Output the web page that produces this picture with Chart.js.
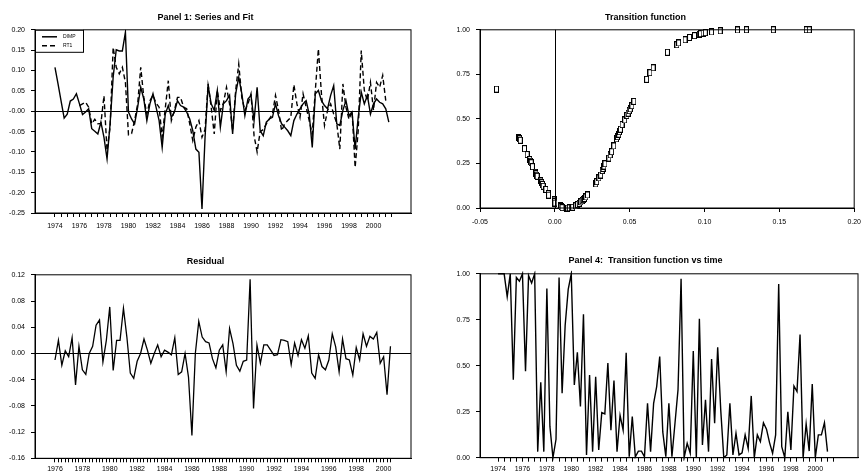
<!DOCTYPE html>
<html>
<head>
<meta charset="utf-8">
<script src="https://cdn.jsdelivr.net/npm/chart.js@4.4.0/dist/chart.umd.min.js"></script>
<style>
  body { margin: 0; background: #fff; }
  #wrap { position: relative; width: 867px; height: 473px; }
  canvas { position: absolute; }
</style>
</head>
<body>
<div id="wrap">
  <canvas id="c1" width="433" height="236" style="left:0;top:0"></canvas>
  <canvas id="c2" width="434" height="236" style="left:433px;top:0"></canvas>
  <canvas id="c3" width="433" height="237" style="left:0;top:236px"></canvas>
  <canvas id="c4" width="434" height="237" style="left:433px;top:236px"></canvas>
</div>
<script>
// ---- data (quarterly) ----
const startDimp = 1974;   // first quarter of DIMP / RT1
const startResid = 1976;  // first quarter of residual
const startTrans = 1974;  // first quarter of transition function vs time

const dimp = [
  0.108,0.067,0.025,-0.017,-0.007,0.025,0.030,0.043,0.018,-0.008,
  -0.002,0.006,-0.043,-0.049,-0.056,-0.027,-0.064,-0.117,-0.031,0.084,
  0.151,0.148,0.148,0.194,-0.002,-0.019,-0.031,0.010,0.059,0.030,
  -0.023,0.018,0.043,0.010,-0.023,-0.089,-0.007,0.014,-0.015,-0.002,
  0.026,0.014,0.010,-0.002,-0.019,-0.048,-0.093,-0.101,-0.240,-0.064,
  0.063,0.018,0.002,0.051,-0.039,0.018,0.026,0.039,-0.056,0.043,
  0.084,0.043,-0.011,0.030,0.039,-0.023,0.059,-0.048,-0.060,-0.027,
  -0.019,-0.015,0.018,-0.011,-0.031,-0.039,-0.048,-0.060,-0.023,-0.007,
  0.006,0.018,0.026,-0.007,-0.089,0.043,0.051,0.026,0.014,0.006,
  0.039,0.063,-0.031,-0.035,0.002,0.026,-0.011,-0.002,-0.093,-0.015,
  0.047,0.018,0.039,-0.007,0.018,0.030,0.022,0.018,0.006,-0.027
];

const rt1 = [
  null,null,null,null,null,null,null,null,
  0.014,0.018,0.022,0.010,-0.031,-0.020,-0.031,-0.030,0.038,-0.097,
  -0.039,0.157,0.108,0.092,0.108,0.071,-0.058,-0.055,-0.023,0.018,
  0.108,0.034,-0.007,0.026,0.039,0.020,0.010,-0.064,0.006,0.075,
  -0.023,0.002,0.034,0.034,0.010,0.006,-0.031,-0.072,-0.039,-0.023,
  -0.064,-0.045,0.067,0.010,-0.056,0.051,0.002,0.020,
  0.059,0.018,-0.048,0.051,0.116,0.034,0.002,0.018,0.043,-0.060,
  -0.100,-0.050,-0.045,-0.031,-0.019,-0.007,0.039,0.002,-0.048,-0.031,
  -0.023,-0.015,0.065,0.018,-0.015,0.043,0.010,-0.023,-0.056,0.051,
  0.153,0.043,-0.035,0.002,0.018,-0.007,-0.030,-0.093,0.067,0.010,
  -0.020,0.000,-0.138,-0.048,0.149,0.051,0.026,0.071,0.002,0.071,
  0.059,0.088,0.026
];

const resid = [
  -0.010,0.020,-0.018,0.004,-0.005,0.024,-0.048,0.011,-0.025,-0.032,
  0.000,0.011,0.043,0.051,-0.013,0.020,0.071,-0.026,0.020,0.020,
  0.069,0.025,-0.030,-0.038,-0.012,0.000,0.022,0.005,-0.015,0.000,
  0.013,-0.005,0.005,0.002,-0.002,0.024,-0.032,-0.028,0.000,-0.036,
  -0.125,0.000,0.049,0.025,0.018,0.016,-0.008,-0.022,0.005,0.013,
  -0.028,0.038,0.015,-0.018,-0.027,-0.012,-0.010,0.113,-0.084,0.013,
  -0.015,0.013,0.013,0.005,-0.003,-0.002,0.021,0.020,0.018,-0.017,
  0.016,-0.003,0.021,0.008,0.027,-0.030,-0.038,-0.002,-0.020,-0.025,
  -0.010,0.030,0.010,-0.028,0.022,-0.008,-0.010,-0.033,0.009,-0.010,
  0.030,0.011,0.026,0.022,0.032,-0.015,-0.005,-0.063,0.011
];

const transTime = [
  1.0,1.0,1.0,0.875,1.0,0.424,0.98,0.96,1.0,0.47,
  0.99,0.95,1.0,0.033,0.41,0.033,0.92,0.17,0.0,0.10,
  0.98,0.35,0.72,0.915,1.0,0.396,0.573,0.278,0.78,0.015,
  0.45,0.033,0.44,0.042,0.245,0.238,0.515,0.15,0.42,0.033,
  0.23,0.15,0.57,0.005,0.224,0.005,0.036,0.036,0.005,0.296,
  0.033,0.296,
  0.387,0.55,0.14,0.005,0.296,0.005,0.187,0.37,0.973,0.0,
  0.078,0.024,0.58,0.0,0.755,0.069,0.315,0.033,0.536,0.187,
  0.60,0.26,0.0,0.015,0.296,0.015,0.133,0.015,0.027,0.124,
  0.05,0.336,0.0,0.124,0.087,0.19,0.155,0.082,0.024,0.124,
  0.945,0.06,0.0,0.25,0.042,0.39,0.36,0.67,0.0,0.184,
  0.036,0.40,0.0,0.124,0.124,0.19,0.033
];

// transition variable (x) and transition function value (y)
const transX = [
  -0.0390,
  -0.0240,-0.0236,-0.0231,-0.0203,-0.0185,-0.0168,-0.0163,-0.0158,-0.0150,-0.0130,
  -0.0126,-0.0122,-0.0118,-0.0094,-0.0088,-0.0083,-0.0078,-0.0060,-0.0044,-0.0042,
  -0.0004,-0.0002,0.0000,
  0.0040,0.0042,0.0048,0.0075,0.0081,0.0086,0.0097,0.0110,0.0119,0.0140,
  0.0152,0.0163,0.0174,0.0182,0.0190,0.0198,0.0207,0.0218,
  0.0273,0.0280,0.0295,0.0306,0.0317,0.0322,0.0328,0.0335,0.0361,0.0370,
  0.0379,0.0394,0.0412,0.0418,0.0427,0.0432,0.0438,0.0449,0.0467,0.0482,
  0.0490,0.0497,0.0504,0.0515,0.0528,
  0.0613,0.0635,0.0657,0.0752,0.0815,0.0827,0.0870,0.0900,0.0933,0.0965,
  0.0973,0.0990,0.1005,0.1047,0.1105,0.1220,0.1280,0.1460,0.1680,0.1700
];
const transG = [
  0.667,
  0.395,0.388,0.380,0.333,0.300,0.272,0.262,0.254,0.232,0.200,
  0.192,0.184,0.178,0.152,0.142,0.132,0.122,0.104,0.080,0.072,
  0.045,0.035,0.028,
  0.012,0.008,0.002,0.000,0.000,0.000,0.001,0.002,0.004,0.012,
  0.019,0.026,0.034,0.040,0.047,0.054,0.062,0.073,
  0.135,0.148,0.169,0.185,0.210,0.222,0.235,0.248,0.280,0.298,
  0.316,0.348,0.388,0.400,0.414,0.428,0.442,0.468,0.494,0.519,
  0.532,0.546,0.556,0.574,0.598,
  0.722,0.759,0.787,0.874,0.916,0.926,0.944,0.957,0.967,0.975,
  0.978,0.981,0.984,0.988,0.994,0.999,1.000,1.000,1.000,1.000
];

// ---- helpers ----
Chart.defaults.font.family = '"Liberation Sans", Arial, sans-serif';
Chart.defaults.font.size = 7;
Chart.defaults.color = '#000';
Chart.defaults.animation = false;

function quarterly(start, values) {
  const pts = [];
  values.forEach((v, i) => { if (v !== null) pts.push({ x: start + i / 4, y: v }); });
  return pts;
}

// draws the box round the plot and optional zero lines
const frame = {
  id: 'frame',
  afterDatasetsDraw(chart, args, opts) {
    const { ctx, chartArea: a, scales } = chart;
    ctx.save();
    ctx.strokeStyle = '#000';
    ctx.lineWidth = 1;
    ctx.strokeRect(a.left, a.top, a.width, a.height);
    if (opts.zeroY) {
      const y = Math.round(scales.y.getPixelForValue(0)) + 0.5;
      ctx.beginPath(); ctx.moveTo(a.left, y); ctx.lineTo(a.right, y); ctx.stroke();
    }
    if (opts.zeroX) {
      const x = Math.round(scales.x.getPixelForValue(0)) + 0.5;
      ctx.beginPath(); ctx.moveTo(x, a.top); ctx.lineTo(x, a.bottom); ctx.stroke();
    }
    ctx.restore();
  }
};

// small boxed legend in the top left corner of panel 1
const boxLegend = {
  id: 'boxLegend',
  afterDraw(chart) {
    const { ctx, chartArea: a } = chart;
    ctx.save();
    ctx.fillStyle = '#fff';
    ctx.fillRect(a.left, a.top, 48, 22);
    ctx.strokeStyle = '#000';
    ctx.lineWidth = 1;
    ctx.strokeRect(a.left + 0.5, a.top + 0.5, 48, 22);
    chart.data.datasets.forEach((ds, i) => {
      const y = a.top + 7 + i * 9;
      ctx.setLineDash(ds.borderDash || []);
      ctx.lineWidth = 1.5;
      ctx.beginPath(); ctx.moveTo(a.left + 7, y); ctx.lineTo(a.left + 22, y); ctx.stroke();
      ctx.setLineDash([]);
      ctx.fillStyle = '#000';
      ctx.font = '5px "Liberation Sans", Arial, sans-serif';
      ctx.textBaseline = 'middle';
      ctx.fillText(ds.label, a.left + 28, y);
    });
    ctx.restore();
  }
};

function timeTicks(from, to, step) {
  return scale => {
    const t = [];
    for (let v = from; v <= to + 1e-9; v += step) t.push({ value: v });
    scale.ticks = t;
  };
}
function yearLabel(v) {
  const r = Math.round(v);
  return (Math.abs(v - r) < 1e-6 && r % 2 === 0) ? String(r) : '';
}
function axisGrid(len) {
  return { display: true, drawOnChartArea: false, drawTicks: true, tickLength: len, tickColor: '#000' };
}
const axisBorder = { display: true, color: '#000', width: 1 };

function title(text, top, bottom) {
  return { display: true, text: text, color: '#000', font: { size: 9, weight: 'bold' }, padding: { top: top, bottom: bottom } };
}

// ---- Panel 1: Series and Fit ----
new Chart(document.getElementById('c1'), {
  type: 'line',
  data: {
    datasets: [
      { label: 'DIMP', data: quarterly(startDimp, dimp), borderColor: '#000', borderWidth: 1.4, pointRadius: 0, tension: 0 },
      { label: 'RT1', data: quarterly(startDimp, rt1), borderColor: '#000', borderWidth: 1.4, borderDash: [5, 3], pointRadius: 0, tension: 0 }
    ]
  },
  options: {
    responsive: false,
    layout: { padding: { left: 0, right: 22, top: 0, bottom: 0 } },
    plugins: { legend: { display: false }, tooltip: { enabled: false }, title: title('Panel 1: Series and Fit', 12, 7), frame: { zeroY: true } },
    scales: {
      x: {
        type: 'linear', min: 1972.37, max: 2003.06,
        afterBuildTicks: timeTicks(1974, 2001.5, 0.5),
        afterFit: s => { s.height = 23; },
        ticks: { autoSkip: false, maxRotation: 0, padding: 5, callback: yearLabel },
        grid: axisGrid(4), border: axisBorder
      },
      y: {
        min: -0.25, max: 0.20,
        afterFit: s => { s.width = 35; },
        ticks: { stepSize: 0.05, padding: 6, callback: v => Math.abs(v) < 1e-9 ? '-0.00' : v.toFixed(2) },
        grid: axisGrid(4), border: axisBorder
      }
    }
  },
  plugins: [frame, boxLegend]
});

// ---- Transition function (scatter) ----
const box = document.createElement('canvas');
box.width = 5; box.height = 7;
const bx = box.getContext('2d');
bx.fillStyle = '#fff'; bx.fillRect(0, 0, 5, 7);
bx.strokeStyle = '#000'; bx.lineWidth = 1; bx.strokeRect(0.5, 0.5, 4, 6);

new Chart(document.getElementById('c2'), {
  type: 'scatter',
  data: {
    datasets: [{
      label: 'G', data: transX.map((x, i) => ({ x: x, y: transG[i] })),
      pointStyle: box, pointRadius: 3, clip: false
    }]
  },
  options: {
    responsive: false,
    layout: { padding: { left: 0, right: 9, top: 0, bottom: 0 } },
    plugins: { legend: { display: false }, tooltip: { enabled: false }, title: title('Transition function', 12, 7), frame: { zeroX: true } },
    scales: {
      x: {
        type: 'linear', min: -0.05, max: 0.20,
        afterFit: s => { s.height = 28; },
        ticks: { stepSize: 0.05, maxRotation: 0, padding: 6, callback: v => v.toFixed(2) },
        grid: axisGrid(4), border: axisBorder
      },
      y: {
        min: 0, max: 1,
        afterFit: s => { s.width = 47; },
        ticks: { stepSize: 0.25, padding: 6, callback: v => v.toFixed(2) },
        grid: axisGrid(4), border: axisBorder
      }
    }
  },
  plugins: [frame]
});

// ---- Residual ----
new Chart(document.getElementById('c3'), {
  type: 'line',
  data: {
    datasets: [{ label: 'Residual', data: quarterly(startResid, resid), borderColor: '#000', borderWidth: 1.3, pointRadius: 0, tension: 0 }]
  },
  options: {
    responsive: false,
    layout: { padding: { left: 0, right: 22, top: 0, bottom: 0 } },
    plugins: { legend: { display: false }, tooltip: { enabled: false }, title: title('Residual', 20, 8), frame: { zeroY: true } },
    scales: {
      x: {
        type: 'linear', min: 1974.54, max: 2002.0,
        afterBuildTicks: timeTicks(1976, 2000.5, 0.25),
        afterFit: s => { s.height = 14.7; },
        ticks: { autoSkip: false, maxRotation: 0, padding: 3, callback: yearLabel },
        grid: axisGrid(4), border: axisBorder
      },
      y: {
        min: -0.16, max: 0.12,
        afterFit: s => { s.width = 35; },
        ticks: { stepSize: 0.04, padding: 6, callback: v => Math.abs(v) < 1e-9 ? '0.00' : v.toFixed(2) },
        grid: axisGrid(4), border: axisBorder
      }
    }
  },
  plugins: [frame]
});

// ---- Panel 4: Transition function vs time ----
new Chart(document.getElementById('c4'), {
  type: 'line',
  data: {
    datasets: [{ label: 'G(t)', data: quarterly(startTrans, transTime), borderColor: '#000', borderWidth: 1.4, pointRadius: 0, tension: 0, clip: 3 }]
  },
  options: {
    responsive: false,
    layout: { padding: { left: 0, right: 9, top: 0, bottom: 0 } },
    plugins: { legend: { display: false }, tooltip: { enabled: false }, title: title('Panel 4:  Transition function vs time', 19, 8), frame: {} },
    scales: {
      x: {
        type: 'linear', min: 1972.52, max: 2003.5,
        afterBuildTicks: timeTicks(1974, 2001.5, 0.5),
        afterFit: s => { s.height = 15.3; },
        ticks: { autoSkip: false, maxRotation: 0, padding: 3, callback: yearLabel },
        grid: axisGrid(4), border: axisBorder
      },
      y: {
        min: 0, max: 1,
        afterFit: s => { s.width = 47; },
        ticks: { stepSize: 0.25, padding: 6, callback: v => v.toFixed(2) },
        grid: axisGrid(4), border: axisBorder
      }
    }
  },
  plugins: [frame]
});
</script>
</body>
</html>
